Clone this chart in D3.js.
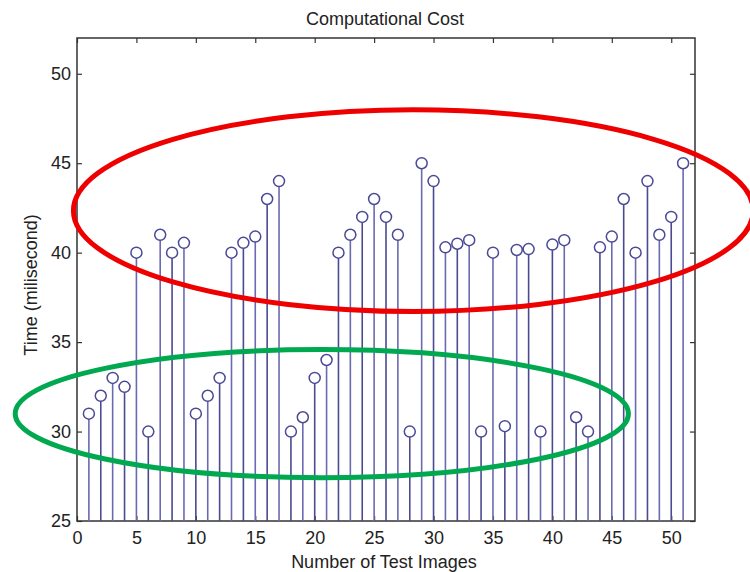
<!DOCTYPE html>
<html>
<head>
<meta charset="utf-8">
<script src="https://cdn.jsdelivr.net/npm/d3@7"></script>
<style>
  body { margin: 0; background: #fff; }
  svg { display: block; font-family: "Liberation Sans", Arial, sans-serif; }
</style>
</head>
<body>
<div id="chart"></div>
<script>
// data
const imageIndex = d3.range(1, 52);
const timeMs = [31, 32, 33, 32.5, 40, 30, 41, 40, 40.55, 31,
    32, 33, 40, 40.55, 40.9, 43, 44, 30, 30.8, 33,
    34, 40, 41, 42, 43, 42, 41, 30, 45, 44,
    40.3, 40.5, 40.7, 30, 40, 30.3, 40.15, 40.2, 30, 40.45,
    40.7, 30.8, 30, 40.3, 40.9, 43, 40, 44, 41, 42, 45];
const xTicks = [0, 5, 10, 15, 20, 25, 30, 35, 40, 45, 50];
const yTicks = [25, 30, 35, 40, 45, 50];

// annotation ellipses in data units: [cx, cy, rx, ry]
const redEllipse = [28.3, 42.35, 28.6, 5.64];
const greenEllipse = [20.6, 31.0, 25.8, 3.58];

//set dimensions
const width = 750,
    height = 572,
    margin = { top: 38, right: 55, bottom: 51, left: 77 };

const svg = d3.select("#chart")
    .append("svg")
    .attr("width", width)
    .attr("height", height);

const xScale = d3.scaleLinear()
    .domain([0, 52])
    .range([margin.left, width - margin.right]);

const yScale = d3.scaleLinear()
    .domain([25, 52])
    .range([height - margin.bottom, margin.top]);

const axisColor = "#333";
const fontSize = "18px";

// axes, matlab style with inward ticks
const xAxis = d3.axisBottom(xScale).tickValues(xTicks).tickSizeInner(-5).tickSizeOuter(0).tickPadding(10);
const yAxis = d3.axisLeft(yScale).tickValues(yTicks).tickSizeInner(-5).tickSizeOuter(0).tickPadding(6);
const xTop = d3.axisTop(xScale).tickValues(xTicks).tickSizeInner(-5).tickSizeOuter(0).tickFormat("");
const yRight = d3.axisRight(yScale).tickValues(yTicks).tickSizeInner(-5).tickSizeOuter(0).tickFormat("");

function styleAxis(g) {
    g.select(".domain").remove();
    g.selectAll(".tick line").attr("stroke", axisColor).attr("stroke-width", 1.2);
    g.selectAll(".tick text").attr("fill", "#222").style("font-size", fontSize);
}

svg.append("g").attr("transform", `translate(0,${height - margin.bottom})`).call(xAxis).call(styleAxis);
svg.append("g").attr("transform", `translate(${margin.left},0)`).call(yAxis).call(styleAxis);
svg.append("g").attr("transform", `translate(0,${margin.top})`).call(xTop).call(styleAxis);
svg.append("g").attr("transform", `translate(${width - margin.right},0)`).call(yRight).call(styleAxis);

// box
svg.append("rect")
    .attr("x", margin.left)
    .attr("y", margin.top)
    .attr("width", width - margin.left - margin.right)
    .attr("height", height - margin.top - margin.bottom)
    .attr("fill", "none")
    .attr("stroke", axisColor)
    .attr("stroke-width", 1.5);

// stems
const stems = svg.append("g").attr("class", "stems");
stems.selectAll("line")
    .data(imageIndex)
    .enter()
    .append("line")
    .attr("x1", d => xScale(d))
    .attr("x2", d => xScale(d))
    .attr("y1", yScale(25))
    .attr("y2", (d, i) => yScale(timeMs[i]))
    .attr("stroke", (d, i) => i % 2 === 0 ? "#6a6ab0" : "#4a4a90")
    .attr("stroke-width", 1.6);

stems.selectAll("circle")
    .data(imageIndex)
    .enter()
    .append("circle")
    .attr("cx", d => xScale(d))
    .attr("cy", (d, i) => yScale(timeMs[i]))
    .attr("r", 5.5)
    .attr("fill", "#fff")
    .attr("stroke", "#4a4a96")
    .attr("stroke-width", 1.5);

// labels
svg.append("text")
    .attr("x", 385)
    .attr("y", 25)
    .attr("text-anchor", "middle")
    .style("font-size", fontSize)
    .attr("fill", "#222")
    .text("Computational Cost");

svg.append("text")
    .attr("x", 384)
    .attr("y", 568)
    .attr("text-anchor", "middle")
    .style("font-size", fontSize)
    .attr("fill", "#222")
    .text("Number of Test Images");

svg.append("text")
    .attr("transform", "translate(37,285) rotate(-90)")
    .attr("text-anchor", "middle")
    .style("font-size", fontSize)
    .attr("fill", "#222")
    .text("Time (milisecond)");

// annotation ellipses
[[redEllipse, "#ee0000"], [greenEllipse, "#00a84f"]].forEach(([e, color]) => {
    svg.append("ellipse")
        .attr("cx", xScale(e[0]))
        .attr("cy", yScale(e[1]))
        .attr("rx", xScale(e[2]) - xScale(0))
        .attr("ry", yScale(0) - yScale(e[3]))
        .attr("fill", "none")
        .attr("stroke", color)
        .attr("stroke-width", 5);
});
</script>
</body>
</html>
